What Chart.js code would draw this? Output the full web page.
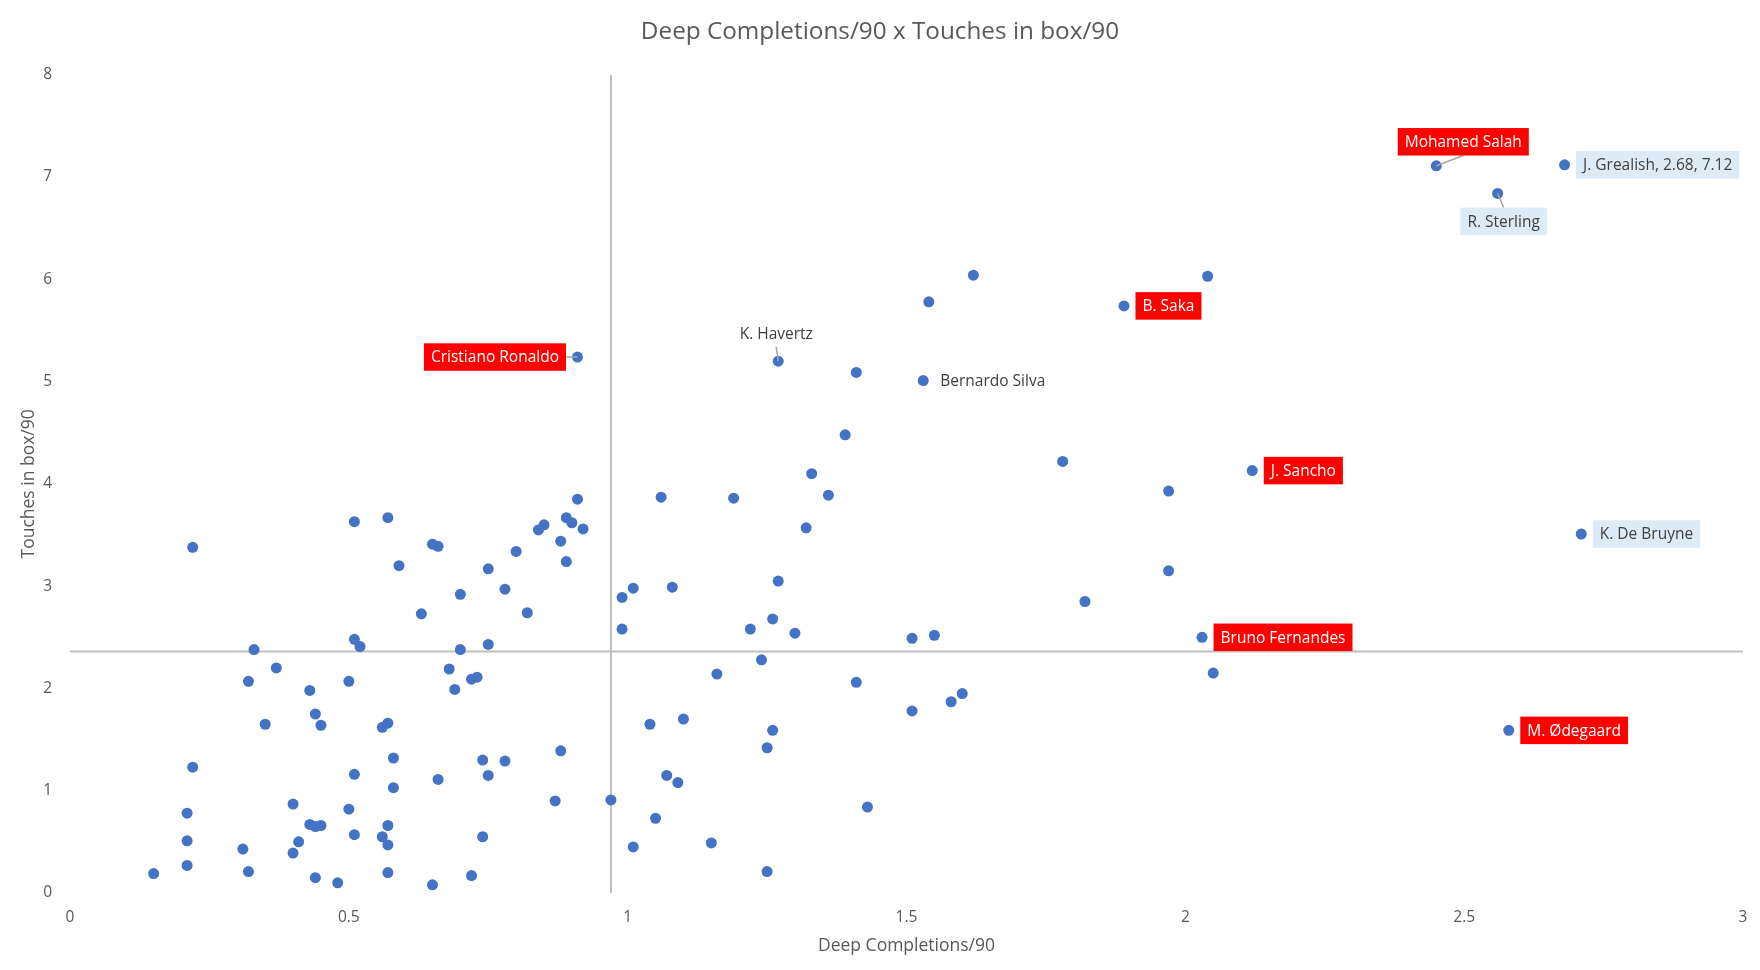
<!DOCTYPE html>
<html>
<head>
<meta charset="utf-8">
<title>Deep Completions/90 x Touches in box/90</title>
<script src="https://cdn.jsdelivr.net/npm/chart.js@4.4.1/dist/chart.umd.min.js"></script>
<style>
  html, body { margin: 0; padding: 0; background: #ffffff; }
  #wrap { width: 1760px; height: 970px; position: relative; }
</style>
</head>
<body>
<div id="wrap"><canvas id="chart"></canvas></div>
<script>
// Valeurs. Les 11 premiers points sont les joueurs nommés (même ordre que playerNames)
const playerNames = [
  'Mohamed Salah', 'J. Grealish, 2.68, 7.12', 'R. Sterling', 'B. Saka', 'Cristiano Ronaldo',
  'K. Havertz', 'Bernardo Silva', 'J. Sancho', 'K. De Bruyne', 'Bruno Fernandes', 'M. Ødegaard'
];

const deepCompletions = [
  // joueurs nommés
  2.45, 2.68, 2.56, 1.89, 0.91, 1.27, 1.53, 2.12, 2.71, 2.03, 2.58,
  // haut droite
  1.62, 2.04, 1.54, 1.41, 1.39, 1.33, 1.78, 1.97, 1.97, 1.82, 1.55, 2.05, 1.60, 1.58,
  // centre
  1.36, 1.32, 0.91, 1.06, 1.19, 0.89, 0.90, 0.92, 0.85, 0.84, 0.88, 0.80, 0.89, 0.78, 0.82,
  0.99, 1.01, 1.08, 0.99, 1.27, 1.26, 1.22, 1.30, 1.51, 1.24, 1.16, 1.41, 1.51, 1.04, 1.10,
  1.26, 1.25, 0.88, 0.78, 1.07, 1.09, 0.87, 0.97, 1.43, 1.05, 1.01, 1.15, 1.25,
  // gauche
  0.22, 0.51, 0.57, 0.65, 0.66, 0.59, 0.75, 0.70, 0.63, 0.51, 0.52, 0.33, 0.70, 0.75, 0.37,
  0.32, 0.43, 0.50, 0.68, 0.72, 0.73, 0.69, 0.44, 0.35, 0.45, 0.56, 0.57, 0.58, 0.74, 0.22,
  0.51, 0.66, 0.75, 0.58, 0.40, 0.50, 0.21, 0.43, 0.44, 0.45, 0.57, 0.51, 0.56, 0.57, 0.41,
  0.40, 0.21, 0.31, 0.74, 0.21, 0.15, 0.32, 0.44, 0.48, 0.57, 0.65, 0.72
];

const touchesInBox = [
  7.11, 7.12, 6.84, 5.74, 5.24, 5.20, 5.01, 4.13, 3.51, 2.50, 1.59,
  6.04, 6.03, 5.78, 5.09, 4.48, 4.10, 4.22, 3.93, 3.15, 2.85, 2.52, 2.15, 1.95, 1.87,
  3.89, 3.57, 3.85, 3.87, 3.86, 3.67, 3.62, 3.56, 3.60, 3.55, 3.44, 3.34, 3.24, 2.97, 2.74,
  2.89, 2.98, 2.99, 2.58, 3.05, 2.68, 2.58, 2.54, 2.49, 2.28, 2.14, 2.06, 1.78, 1.65, 1.70,
  1.59, 1.42, 1.39, 1.29, 1.15, 1.08, 0.90, 0.91, 0.84, 0.73, 0.45, 0.49, 0.21,
  3.38, 3.63, 3.67, 3.41, 3.39, 3.20, 3.17, 2.92, 2.73, 2.48, 2.41, 2.38, 2.38, 2.43, 2.20,
  2.07, 1.98, 2.07, 2.19, 2.09, 2.11, 1.99, 1.75, 1.65, 1.64, 1.62, 1.66, 1.32, 1.30, 1.23,
  1.16, 1.11, 1.15, 1.03, 0.87, 0.82, 0.78, 0.67, 0.65, 0.66, 0.66, 0.57, 0.55, 0.47, 0.50,
  0.39, 0.51, 0.43, 0.55, 0.27, 0.19, 0.21, 0.15, 0.10, 0.20, 0.08, 0.17
];

// lignes de moyenne
const meanDeep = 0.97;
const meanTouches = 2.36;

const xTicks = [0, 0.5, 1, 1.5, 2, 2.5, 3];
const yTicks = [0, 1, 2, 3, 4, 5, 6, 7, 8];

// style des étiquettes (une par joueur nommé)
const RED = { fill: '#FF0000', color: '#FFFFFF' };
const BLUE = { fill: '#DDEBF7', color: '#404040' };
const PLAIN = { fill: null, color: '#404040' };
const labelPlacement = [
  { ...RED, pos: 'offset', dx: 27, dy: -24, leader: 'bottom' },   // Salah
  { ...BLUE, pos: 'right' },                                      // Grealish
  { ...BLUE, pos: 'offset', dx: 6, dy: 28, leader: 'top' },       // Sterling
  { ...RED, pos: 'right' },                                       // Saka
  { ...RED, pos: 'left', leader: 'side' },                        // Ronaldo
  { ...PLAIN, pos: 'offset', dx: -2, dy: -28, leader: 'bottom' }, // Havertz
  { ...PLAIN, pos: 'right', gap: 10 },                            // Bernardo Silva
  { ...RED, pos: 'right' },                                       // Sancho
  { ...BLUE, pos: 'right' },                                      // De Bruyne
  { ...RED, pos: 'right' },                                       // Bruno Fernandes
  { ...RED, pos: 'right' }                                        // Ødegaard
];

const FONT = '"Open Sans", "DejaVu Sans", sans-serif';
const BOX_H = 27.5;
const BOX_PAD = 7;

// Plugin: étiquettes des joueurs
const playerLabels = {
  id: 'playerLabels',
  afterDatasetsDraw(chart) {
    const ctx = chart.ctx;
    const pts = chart.getDatasetMeta(2).data;
    ctx.save();
    ctx.font = '15.5px ' + FONT;
    ctx.textBaseline = 'middle';
    ctx.textAlign = 'center';
    playerNames.forEach((name, i) => {
      const p = pts[i];
      const st = labelPlacement[i];
      const w = ctx.measureText(name).width + BOX_PAD * 2;
      const gap = st.gap !== undefined ? st.gap : 11.5;
      let cx, cy;
      if (st.pos === 'right') { cx = p.x + gap + w / 2; cy = p.y; }
      else if (st.pos === 'left') { cx = p.x - gap - w / 2; cy = p.y; }
      else { cx = p.x + st.dx; cy = p.y + st.dy; }

      if (st.leader) {
        let sx = cx, sy = cy;
        if (st.leader === 'bottom') sy = cy + BOX_H / 2;
        if (st.leader === 'top') sy = cy - BOX_H / 2;
        if (st.leader === 'side') sx = cx + w / 2;
        ctx.strokeStyle = '#A6A6A6';
        ctx.lineWidth = 1.5;
        ctx.beginPath();
        ctx.moveTo(sx, sy);
        ctx.lineTo(p.x, p.y);
        ctx.stroke();
      }
      if (st.fill) {
        ctx.fillStyle = st.fill;
        ctx.fillRect(cx - w / 2, cy - BOX_H / 2, w, BOX_H);
      }
      ctx.fillStyle = st.color;
      ctx.fillText(name, cx, cy + 1);
    });
    ctx.restore();
  }
};

const points = deepCompletions.map((x, i) => ({ x: x, y: touchesInBox[i] }));

new Chart(document.getElementById('chart'), {
  type: 'scatter',
  data: {
    datasets: [
      {
        data: [{ x: meanDeep, y: yTicks[0] }, { x: meanDeep, y: yTicks[yTicks.length - 1] }],
        showLine: true, borderColor: '#BFBFBF', borderWidth: 2, pointRadius: 0, order: 3
      },
      {
        data: [{ x: xTicks[0], y: meanTouches }, { x: xTicks[xTicks.length - 1], y: meanTouches }],
        showLine: true, borderColor: '#BFBFBF', borderWidth: 2, pointRadius: 0, order: 2
      },
      {
        data: points,
        backgroundColor: '#4472C4',
        borderWidth: 0,
        pointRadius: 5.5,
        pointHoverRadius: 5.5,
        order: 1
      }
    ]
  },
  options: {
    responsive: true,
    maintainAspectRatio: false,
    devicePixelRatio: 1,
    animation: false,
    layout: { padding: 0 },
    plugins: {
      legend: { display: false },
      tooltip: { enabled: false },
      title: {
        display: true,
        text: 'Deep Completions/90 x Touches in box/90',
        color: '#595959',
        font: { family: FONT, size: 24.3, weight: 'normal' },
        padding: { top: 17, bottom: 28.6 }
      }
    },
    scales: {
      x: {
        type: 'linear',
        min: xTicks[0],
        max: xTicks[xTicks.length - 1],
        afterBuildTicks: (s) => { s.ticks = xTicks.map(v => ({ value: v })); },
        afterFit: (s) => { s.height = 77; s.paddingRight = 17; },
        grid: { display: false, drawTicks: false },
        border: { display: false },
        ticks: {
          color: '#595959',
          font: { family: FONT, size: 15.5 },
          padding: 15,
          callback: (v) => String(v)
        },
        title: {
          display: true,
          text: 'Deep Completions/90',
          color: '#595959',
          font: { family: FONT, size: 17.5 },
          padding: { top: 0, bottom: 13.8 }
        }
      },
      y: {
        type: 'linear',
        min: yTicks[0],
        max: yTicks[yTicks.length - 1],
        afterBuildTicks: (s) => { s.ticks = yTicks.map(v => ({ value: v })); },
        afterFit: (s) => { s.width = 70; },
        grid: { display: false, drawTicks: false },
        border: { display: false },
        ticks: {
          color: '#595959',
          font: { family: FONT, size: 15.5 },
          padding: 18,
          callback: (v) => String(v)
        },
        title: {
          display: true,
          text: 'Touches in box/90',
          color: '#595959',
          font: { family: FONT, size: 17.5 },
          padding: { top: 18.5, bottom: 0 }
        }
      }
    }
  },
  plugins: [playerLabels]
});
</script>
</body>
</html>
